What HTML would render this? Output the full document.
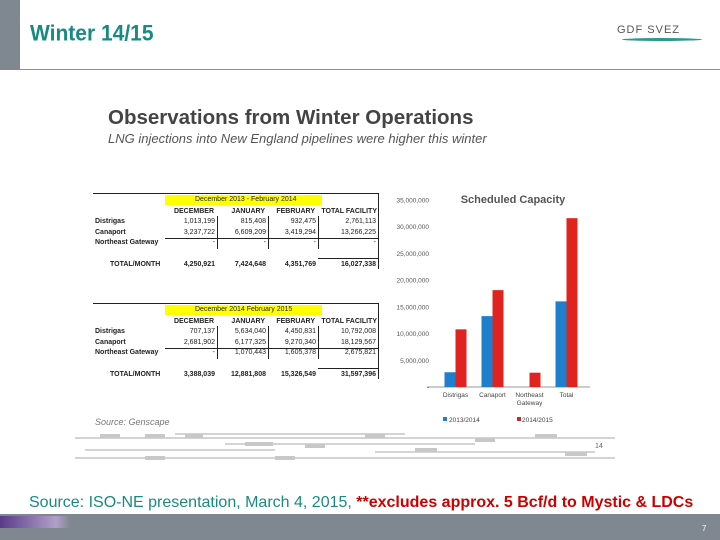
<!DOCTYPE html>
<html><head><meta charset="utf-8"><style>
body{margin:0;width:720px;height:540px;position:relative;background:#fff;font-family:"Liberation Sans",sans-serif;overflow:hidden}
.a{position:absolute;white-space:nowrap}
.t{position:absolute;font-size:7px;color:#222;white-space:nowrap;font-family:"Liberation Sans",sans-serif}
.r{text-align:right}
.b{font-weight:bold}
</style></head><body>
<div class="a" style="left:0;top:0;width:20px;height:70px;background:#7f8890"></div>
<div class="a" style="left:20px;top:69px;width:700px;height:1px;background:#8a9096"></div>
<div class="a" style="left:30px;top:22px;font-size:21px;font-weight:bold;color:#178a84;transform:scaleY(1.05)">Winter 14/15</div>
<div class="a" style="left:617px;top:24px;font-size:11px;color:#555;letter-spacing:1px">GDF SVEZ</div>
<div class="a" style="left:622px;top:38px;width:80px;height:3px;border-radius:50%;background:#2a9a8f"></div>
<div class="a" style="left:108px;top:106px;font-size:20.5px;font-weight:bold;color:#444">Observations from Winter Operations</div>
<div class="a" style="left:108px;top:131px;font-size:13px;font-style:italic;color:#555">LNG injections into New England pipelines were higher this winter</div>

<div id="tables"></div>

<svg class="a" style="left:0;top:0" width="720" height="540" id="chart"></svg>

<div class="a" style="left:95px;top:417px;font-size:9px;font-style:italic;color:#777">Source:  Genscape</div>
<svg class="a" style="left:75px;top:430px" width="540" height="32">
<g stroke="#aaa" stroke-width="1" fill="none"><path d="M0 8H540M10 20H200M0 28H540M150 14H400M300 22H520M100 4H330"/></g>
<g fill="#c8c8c8"><rect x="25" y="4" width="20" height="4"/><rect x="70" y="4" width="20" height="4"/><rect x="110" y="4" width="18" height="4"/><rect x="170" y="12" width="28" height="4"/><rect x="230" y="14" width="20" height="4"/><rect x="290" y="4" width="20" height="4"/><rect x="340" y="18" width="22" height="4"/><rect x="400" y="8" width="20" height="4"/><rect x="460" y="4" width="22" height="4"/><rect x="490" y="22" width="22" height="4"/><rect x="70" y="26" width="20" height="4"/><rect x="200" y="26" width="20" height="4"/></g>
<text x="520" y="18" font-size="7" fill="#666" font-family="Liberation Sans">14</text></svg>

<div class="a" style="left:29px;top:494px;font-size:16px;color:#1a8a80">Source: ISO-NE presentation, March 4, 2015, <span style="color:#c00;font-weight:bold">**excludes approx. 5 Bcf/d to Mystic &amp; LDCs</span></div>
<div class="a" style="left:0;top:514px;width:720px;height:26px;background:#7f8890"></div>
<div class="a" style="left:0;top:516px;width:70px;height:12px;background:linear-gradient(90deg,#5a3a8a,#b0a0c8 80%,rgba(127,136,144,0))"></div>
<div class="a" style="left:702px;top:524px;font-size:8px;color:#fff">7</div>

<script>
const cols=["DECEMBER","JANUARY","FEBRUARY","TOTAL FACILITY"];
const rowNames=["Distrigas","Canaport","Northeast Gateway"];
const t1=[["1,013,199","815,408","932,475","2,761,113"],["3,237,722","6,609,209","3,419,294","13,266,225"],["-","-","-","-"]];
const t1tot=["4,250,921","7,424,648","4,351,769","16,027,338"];
const t2=[["707,137","5,634,040","4,450,831","10,792,008"],["2,681,902","6,177,325","9,270,340","18,129,567"],["-","1,070,443","1,605,378","2,675,821"]];
const t2tot=["3,388,039","12,881,808","15,326,549","31,597,396"];
const colRight=[217,268,318,378];
const tb=document.getElementById('tables');
function add(txt,x,y,cls,name,align){const d=document.createElement('div');d.className='t '+cls;d.textContent=txt;


if(align)d.style.right=(720-x)+'px';else d.style.left=x+'px';d.style.top=y+'px';tb.appendChild(d);}
function box(x,y,w,h,style,name){const d=document.createElement('div');d.className='a';d.style.cssText=`left:${x}px;top:${y}px;width:${w}px;height:${h}px;${style}`;


tb.appendChild(d);}
function table(y0,title,data,tot,n){
 box(93,y0-2,286,1,'background:#222',n+'-top-border');
 box(378,y0-2,1,76,'background:#222',n+'-right-border');
 box(165,y0,157,10,'background:#ffff00',n+'-header-band');
 add(title,195,y0+1,'', n+'-title');
 cols.forEach((c,i)=>add(c,colRight[i]-(i==3?1:3),y0+13,'b r',n+'-col-header',1));
 data.forEach((r,j)=>{add(rowNames[j],95,y0+23+j*10.5,'b',n+'-row-label');
  r.forEach((v,i)=>add(v,colRight[i]-2,y0+23+j*10.5,'r',n+'-cell',1));});
 [217,268,318].forEach(x=>box(x,y0+21,1,33,'background:#222',n+'-divider'));
 box(165,y0+43,213,1,'background:#222',n+'-row-rule');
 box(318,y0+63,60,1,'background:#222',n+'-total-rule');
 add('TOTAL/MONTH',110,y0+66,'b',n+'-total-label');
 tot.forEach((v,i)=>add(v,colRight[i]-2,y0+66,'b r',n+'-total-cell',1));
}
table(195,'December 2013 - February 2014',t1,t1tot,'table-2013');
table(305,'December 2014   February 2015',t2,t2tot,'table-2014');
</script>
<script>
const categories=["Distrigas","Canaport","Northeast|Gateway","Total"];
const s2013=[2761113,13266225,0,16027338];
const s2014=[10792008,18129567,2675821,31597396];
const tickVals=[0,5000000,10000000,15000000,20000000,25000000,30000000,35000000];
const tickLabels=["-","5,000,000","10,000,000","15,000,000","20,000,000","25,000,000","30,000,000","35,000,000"];
const svg=document.getElementById('chart');const NS='http://www.w3.org/2000/svg';
const X0=437,CW=37,Y0=387,YT=200,YMAX=35000000;
const y=v=>Y0-(v/YMAX)*(Y0-YT);
const xc=i=>X0+CW*(i+0.5);
function el(t,a,name){const e=document.createElementNS(NS,t);for(const k in a)e.setAttribute(k,a[k]);


svg.appendChild(e);return e;}
const tt=el('text',{x:513,y:203,'font-size':11,'font-weight':'bold',fill:'#555','text-anchor':'middle','font-family':'Liberation Sans'},'chart-title');tt.textContent='Scheduled Capacity';
tickVals.forEach((v,i)=>{const t=el('text',{x:429,y:y(v)+2.5,'font-size':6.5,fill:'#555','text-anchor':'end','font-family':'Liberation Sans'},'y-tick-label');t.textContent=tickLabels[i];});
el('line',{x1:427,x2:590,y1:Y0,y2:Y0,stroke:'#999'},'x-axis');
categories.forEach((c,i)=>{
 el('rect',{x:xc(i)-11,y:y(s2013[i]),width:11,height:Y0-y(s2013[i]),fill:'#1f7fcf'},'bar-2013-'+i);
 el('rect',{x:xc(i),y:y(s2014[i]),width:11,height:Y0-y(s2014[i]),fill:'#e0231f'},'bar-2014-'+i);
 c.split('|').forEach((p,k)=>{const t=el('text',{x:xc(i),y:397+k*8,'font-size':6.5,fill:'#444','text-anchor':'middle','font-family':'Liberation Sans'},'x-tick-label');t.textContent=p;});
});
el('rect',{x:443,y:417,width:4,height:4,fill:'#1f7fcf'},'legend-swatch-2013');
let l=el('text',{x:449,y:422,'font-size':6.5,fill:'#444','font-family':'Liberation Sans'},'legend-entry-2013');l.textContent='2013/2014';
el('rect',{x:517,y:417,width:4,height:4,fill:'#c0302a'},'legend-swatch-2014');
l=el('text',{x:522,y:422,'font-size':6.5,fill:'#444','font-family':'Liberation Sans'},'legend-entry-2014');l.textContent='2014/2015';
</script>
</body></html>
